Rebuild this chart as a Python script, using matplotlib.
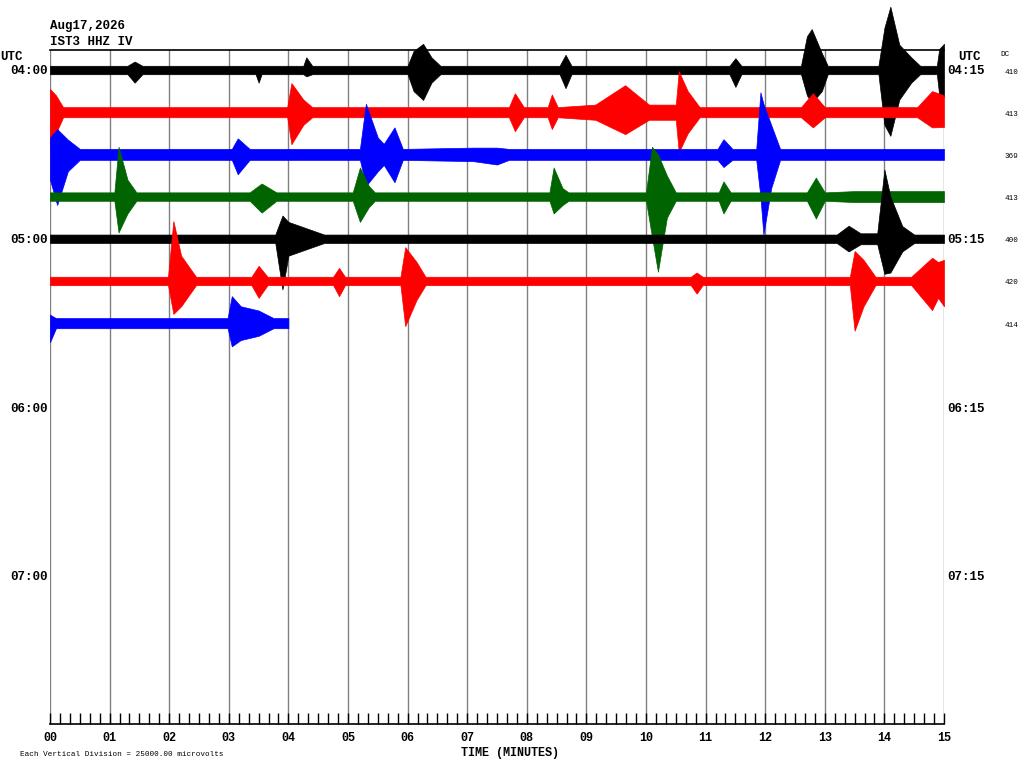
"""
Helicorder IST3 HHZ IV, 17 Aug 2026 -- 15 min per row.
Each trace is drawn from an envelope read off the reference:
(minute, upward swing, downward swing) in vertical divisions.
"""
import matplotlib
matplotlib.use("Agg")
import matplotlib.pyplot as plt
import numpy as np

W, H = 1024, 768
MONO = "Liberation Mono"

# ---- data -----------------------------------------------------------
trace_colors = ["black", "red", "blue", "#006400", "black", "red", "blue"]
dc_values = [410, 413, 369, 413, 400, 420, 414]
left_labels = ["04:00", "05:00", "06:00", "07:00"]
right_labels = ["04:15", "05:15", "06:15", "07:15"]
minute_labels = ["%02d" % m for m in range(16)]

row0 = [(0, .1, .1), (1.3, .1, .1), (1.42, .2, .3), (1.55, .1, .1),
        (3.45, .1, .1), (3.5, .1, .3), (3.55, .1, .1), (4.25, .1, .1),
        (4.3, .3, .15), (4.4, .1, .1), (6.0, .1, .1), (6.1, .45, .5),
        (6.26, .62, .71), (6.4, .3, .3), (6.55, .1, .1), (8.55, .1, .1),
        (8.65, .36, .43), (8.75, .1, .1), (11.4, .1, .1), (11.5, .28, .4),
        (11.6, .1, .1), (12.6, .1, .1), (12.7, .8, .6), (12.78, .97, .78),
        (12.95, .4, .5), (13.05, .1, .1), (13.9, .1, .1), (14.0, 1.0, 1.3),
        (14.1, 1.5, 1.56), (14.25, .6, .7), (14.45, .3, .3), (14.6, .1, .1),
        (14.88, .1, .1), (14.92, .5, .6), (15.0, .62, .64)]
row1 = [(0, .55, .88), (0.1, .4, .5), (0.22, .12, .12), (3.98, .12, .12),
        (4.05, .69, .76), (4.25, .3, .3), (4.4, .12, .12), (7.7, .12, .12),
        (7.8, .45, .45), (7.95, .12, .12), (8.35, .12, .12), (8.42, .42, .4),
        (8.52, .12, .12), (9.15, .18, .18), (9.65, .64, .52), (10.05, .18, .18),
        (10.5, .18, .18), (10.55, .97, .95), (10.7, .5, .5), (10.9, .12, .12),
        (12.6, .12, .12), (12.8, .45, .36), (13.0, .12, .12), (14.55, .12, .12),
        (14.8, .5, .36), (15.0, .4, .35)]
row2 = [(0, .4, .6), (0.12, .6, 1.2), (0.3, .35, .4), (0.5, .13, .13),
        (3.05, .13, .13), (3.15, .38, .47), (3.35, .13, .13), (5.2, .13, .13),
        (5.3, 1.2, .75), (5.5, .4, .4), (5.6, .25, .25), (5.78, .64, .66),
        (5.92, .13, .13), (7.1, .16, .16), (7.5, .16, .24), (7.7, .13, .13),
        (11.2, .13, .13), (11.3, .36, .3), (11.45, .13, .13), (11.85, .13, .13),
        (11.92, 1.47, 1.0), (11.97, 1.2, 1.9), (12.1, .7, .8), (12.25, .13, .13),
        (15.0, .13, .13)]
row3 = [(0, .1, .1), (1.08, .1, .1), (1.15, 1.18, .85), (1.3, .4, .4),
        (1.45, .1, .1), (3.35, .1, .1), (3.55, .31, .38), (3.8, .1, .1),
        (5.08, .1, .1), (5.2, .69, .6), (5.35, .25, .25), (5.45, .1, .1),
        (8.38, .1, .1), (8.45, .69, .4), (8.6, .2, .2), (8.7, .1, .1),
        (10.0, .1, .1), (10.1, 1.18, .95), (10.2, 1.0, 1.78), (10.35, .5, .5),
        (10.5, .1, .1), (11.22, .1, .1), (11.3, .36, .4), (11.42, .1, .1),
        (12.7, .1, .1), (12.85, .45, .52), (13.0, .1, .1), (13.5, .13, .13),
        (15.0, .13, .13)]
row4 = [(0, .1, .1), (3.78, .1, .1), (3.9, .55, 1.2), (4.0, .4, .4),
        (4.4, .2, .2), (4.6, .1, .1), (13.2, .1, .1), (13.4, .31, .3),
        (13.6, .13, .13), (13.88, .13, .13), (14.0, 1.64, .83), (14.1, 1.0, .8),
        (14.3, .3, .3), (14.5, .1, .1), (15.0, .1, .1)]
row5 = [(0, .1, .1), (1.98, .1, .1), (2.07, 1.42, .78), (2.2, .6, .6),
        (2.45, .1, .1), (3.38, .1, .1), (3.5, .36, .4), (3.65, .1, .1),
        (4.75, .1, .1), (4.85, .31, .36), (4.95, .1, .1), (5.88, .1, .1),
        (5.96, .8, 1.07), (6.15, .45, .45), (6.3, .1, .1), (10.75, .1, .1),
        (10.85, .2, .3), (10.95, .1, .1), (13.42, .1, .1), (13.5, .71, 1.18),
        (13.65, .5, .6), (13.85, .1, .1), (14.45, .1, .1), (14.8, .55, .69),
        (14.9, .45, .4), (15.0, .5, .6)]
row6 = [(0, .2, .45), (0.1, .12, .12), (2.98, .12, .12), (3.05, .64, .55),
        (3.2, .4, .4), (3.5, .3, .3), (3.75, .12, .12), (4.0, .12, .12)]
traces = [row0, row1, row2, row3, row4, row5, row6]


def px(x, y):
    return x / W, 1 - y / H


fig = plt.figure(figsize=(W / 100, H / 100), dpi=100)
ax = fig.add_axes([50 / W, 1 - 724 / H, 894 / W, 674 / H])
ax.set_xlim(0, 15)
ax.set_ylim(15.5, -0.474)

for m in range(16):
    ax.axvline(m, color="#808080", lw=1, zorder=1)

for r, (pts, col) in enumerate(zip(traces, trace_colors)):
    arr = np.array(pts)
    t, up, dn = arr[:, 0], arr[:, 1], arr[:, 2]
    ax.fill_between(t, r - up, r + dn, color=col, lw=0.5, edgecolor=col,
                    zorder=3, clip_on=False)

ax.spines["left"].set_visible(False)
ax.spines["right"].set_visible(False)
ax.spines["top"].set_linewidth(1.2)
ax.spines["bottom"].set_linewidth(1.2)
ax.set_yticks([])
ax.set_xticks(range(16))
ax.set_xticklabels(minute_labels, fontfamily=MONO, fontweight="bold", fontsize=8.5)
ax.set_xticks(np.arange(0, 15.01, 1 / 6), minor=True)
ax.tick_params(axis="x", which="both", direction="in", length=8, width=1,
               pad=6, top=False)

fig.text(*px(510, 753), "TIME (MINUTES)", ha="center", va="center",
         fontfamily=MONO, fontweight="bold", fontsize=8.5)
fig.text(*px(50, 26), "Aug17,2026", ha="left", va="center",
         fontfamily=MONO, fontweight="bold", fontsize=9)
fig.text(*px(50, 42), "IST3 HHZ IV", ha="left", va="center",
         fontfamily=MONO, fontweight="bold", fontsize=9)
fig.text(*px(0, 57), "UTC", ha="left", va="center",
         fontfamily=MONO, fontweight="bold", fontsize=9)
fig.text(*px(958, 57), "UTC", ha="left", va="center",
         fontfamily=MONO, fontweight="bold", fontsize=9)
fig.text(*px(1000, 54), "DC", ha="left", va="center",
         fontfamily=MONO, fontsize=5.5)

for i, (lt, rt) in enumerate(zip(left_labels, right_labels)):
    y = 71 + 42.2 * 4 * i
    fig.text(*px(48, y), lt, ha="right", va="center",
             fontfamily=MONO, fontweight="bold", fontsize=9)
    fig.text(*px(947, y), rt, ha="left", va="center",
             fontfamily=MONO, fontweight="bold", fontsize=9)

for i, dc in enumerate(dc_values):
    fig.text(*px(1005, 72 + 42.2 * i), str(dc), ha="left", va="center",
             fontfamily=MONO, fontsize=5.5)

fig.text(*px(20, 754), "Each Vertical Division = 25000.00 microvolts",
         ha="left", va="center", fontfamily=MONO, fontsize=5.5)

fig.savefig("out.png", dpi=100)
